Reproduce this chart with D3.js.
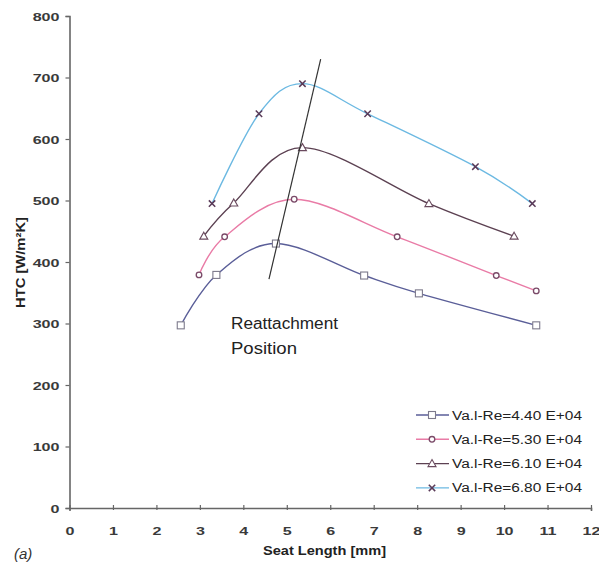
<!DOCTYPE html>
<html>
<head>
<meta charset="utf-8">
<script src="https://cdn.jsdelivr.net/npm/d3@7"></script>
<style>
  html, body { margin: 0; padding: 0; background: #fff; }
  svg { display: block; }
  text { font-family: "Liberation Sans", Arial, sans-serif; }
</style>
</head>
<body>
<svg id="chart" width="599" height="562"></svg>
<script>
// Heat transfer coefficient along the seat for four Reynolds numbers
const seriesNames = ["Va.l-Re=4.40 E+04", "Va.l-Re=5.30 E+04", "Va.l-Re=6.10 E+04", "Va.l-Re=6.80 E+04"];
const re440 = [[2.56, 297], [3.38, 379], [4.75, 430], [6.78, 378], [8.04, 349], [10.74, 297]];
const re530 = [[2.98, 379], [3.57, 441], [5.17, 502], [7.54, 441], [9.82, 378], [10.74, 353]];
const re610 = [[3.09, 442], [3.78, 496], [5.36, 586], [8.27, 495], [10.23, 442]];
const re680 = [[3.28, 495], [4.36, 641], [5.36, 690], [6.86, 641], [9.34, 555], [10.65, 495]];
const reattachLine = [[4.59, 372], [5.78, 730]];
const xTicks = [0, 1, 2, 3, 4, 5, 6, 7, 8, 9, 10, 11, 12];
const yTicks = [0, 100, 200, 300, 400, 500, 600, 700, 800];

const lineColors = ["#5a5e98", "#e97ba6", "#5c4152", "#6cb9e2"];
const markerColors = ["#7d7a8c", "#7a4a68", "#6a4a5e", "#5a3a58"];
const markerTypes = ["square", "circle", "triangle", "cross"];
const allSeries = [re440, re530, re610, re680];

const svg = d3.select("#chart");
const x = d3.scaleLinear().domain([0, 12]).range([69.5, 591]);
const y = d3.scaleLinear().domain([0, 800]).range([508, 16]);

// axes (labels use a horizontally widened face)
const axisColor = "#666";
const stretch = 1.4;
const yAxis = svg.append("g").attr("transform", `translate(${x(0)},0)`)
  .call(d3.axisLeft(y).tickValues(yTicks).tickSize(4));
const xAxis = svg.append("g").attr("transform", `translate(0,${y(0)})`)
  .call(d3.axisBottom(x).tickValues(xTicks).tickSize(3));
[xAxis, yAxis].forEach(g => {
  g.select(".domain").attr("stroke", axisColor).attr("stroke-width", 1.6);
  g.selectAll(".tick line").attr("stroke", axisColor).attr("stroke-width", 1.2);
  g.selectAll(".tick text").attr("fill", "#3a3a3a").attr("font-size", 11.5)
    .attr("font-weight", "bold").attr("font-family", "'Liberation Sans', Arial, sans-serif")
    .attr("transform", `scale(${stretch},1)`);
});
yAxis.selectAll(".tick text").attr("x", -10 / stretch).attr("dy", "0.35em");
xAxis.selectAll(".tick text").attr("x", 0).attr("y", 27).attr("dy", 0);
// x ticks cross the axis slightly
xAxis.selectAll(".tick line").attr("y1", -3).attr("y2", 2);

// axis titles
svg.append("text").attr("x", 263).attr("y", 555)
  .attr("font-size", 12).attr("font-weight", "bold").attr("fill", "#222")
  .attr("textLength", 123).attr("lengthAdjust", "spacingAndGlyphs")
  .text("Seat Length [mm]");
svg.append("text").attr("transform", "translate(25,308) rotate(-90)")
  .attr("font-size", 12.5).attr("font-weight", "bold")
  .attr("textLength", 91).attr("lengthAdjust", "spacingAndGlyphs")
  .attr("fill", "#222").text("HTC [W/m²K]");
svg.append("text").attr("x", 14).attr("y", 559).attr("font-size", 15)
  .attr("font-style", "italic").attr("fill", "#333").text("(a)");

// series curves
const line = d3.line().x(d => x(d[0])).y(d => y(d[1])).curve(d3.curveCardinal.tension(0));

function drawMarker(g, type, cx, cy, color) {
  if (type === "square") {
    g.append("rect").attr("x", cx - 3.5).attr("y", cy - 3.5).attr("width", 7).attr("height", 7)
      .attr("fill", "#fff").attr("stroke", color).attr("stroke-width", 1.1);
  } else if (type === "circle") {
    g.append("circle").attr("cx", cx).attr("cy", cy).attr("r", 2.8)
      .attr("fill", "#fff").attr("stroke", color).attr("stroke-width", 1.3);
  } else if (type === "triangle") {
    g.append("path").attr("d", `M${cx},${cy - 4}L${cx + 4},${cy + 3}L${cx - 4},${cy + 3}Z`)
      .attr("fill", "#fff").attr("stroke", color).attr("stroke-width", 1.1);
  } else {
    g.append("path").attr("d", `M${cx - 3.2},${cy - 3.2}L${cx + 3.2},${cy + 3.2}M${cx - 3.2},${cy + 3.2}L${cx + 3.2},${cy - 3.2}`)
      .attr("stroke", color).attr("stroke-width", 1.5);
  }
}

allSeries.forEach((data, i) => {
  svg.append("path").datum(data).attr("d", line)
    .attr("fill", "none").attr("stroke", lineColors[i]).attr("stroke-width", 1.4);
});
allSeries.forEach((data, i) => {
  const g = svg.append("g");
  data.forEach(d => drawMarker(g, markerTypes[i], x(d[0]), y(d[1]), markerColors[i]));
});

// reattachment position line
svg.append("line")
  .attr("x1", x(reattachLine[0][0])).attr("y1", y(reattachLine[0][1]))
  .attr("x2", x(reattachLine[1][0])).attr("y2", y(reattachLine[1][1]))
  .attr("stroke", "#333").attr("stroke-width", 1.2);
svg.append("text").attr("x", 231).attr("y", 329).attr("font-size", 16).attr("fill", "#222")
  .attr("textLength", 107).attr("lengthAdjust", "spacingAndGlyphs")
  .text("Reattachment");
svg.append("text").attr("x", 231).attr("y", 354).attr("font-size", 16).attr("fill", "#222")
  .attr("textLength", 66).attr("lengthAdjust", "spacingAndGlyphs")
  .text("Position");

// legend
const legend = svg.append("g");
seriesNames.forEach((name, i) => {
  const ly = 415 + i * 24.3;
  legend.append("line").attr("x1", 416).attr("x2", 449).attr("y1", ly).attr("y2", ly)
    .attr("stroke", lineColors[i]).attr("stroke-width", 1.4);
  drawMarker(legend, markerTypes[i], 432, ly, markerColors[i]);
  legend.append("text").attr("x", 452).attr("y", ly + 4.5).attr("font-size", 12)
    .attr("textLength", 130).attr("lengthAdjust", "spacingAndGlyphs")
    .attr("fill", "#222").text(name);
});
</script>
</body>
</html>
